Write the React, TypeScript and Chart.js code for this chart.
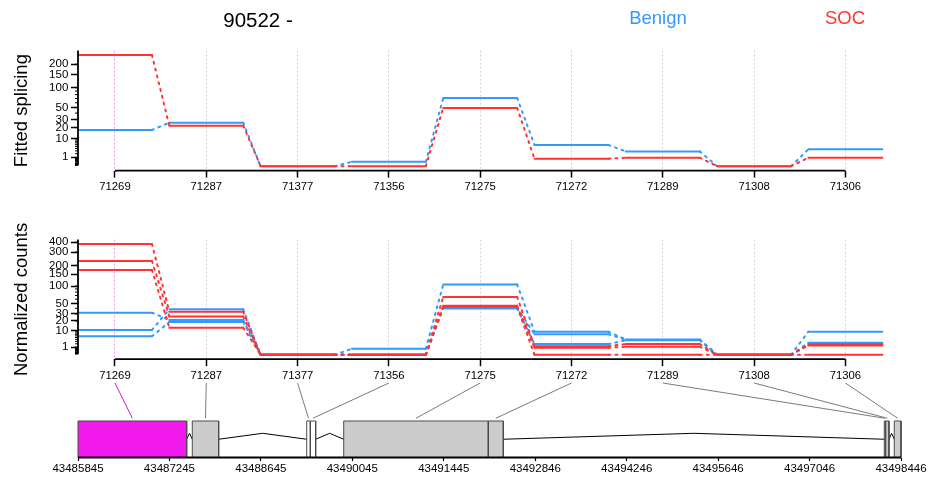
import { useEffect, useRef } from 'react';
import { Chart, registerables } from 'chart.js';

Chart.register(...registerables);

const FONT = '"Liberation Sans", Arial, Helvetica, sans-serif';
const RED = '#FF3333';
const BLUE = '#3399FF';
const HIGHLIGHT = '#F219ED';

const geneId = '90522';
const strand = '-';
const groupNames = ['Benign', 'SOC'];

// exon bins, in plotting order
const exonLabels = ['71269', '71287', '71377', '71356', '71275', '71272', '71289', '71308', '71306'];

// fitted splicing per exon bin
const fittedBenign = [17.5, 25.9, 0, 0.26, 71, 5.8, 2.8, 0, 3.65];
const fittedSOC = [256, 22.2, 0, 0, 49.3, 0.71, 0.92, 0, 0.92];

// normalized counts, one array per sample
const benign1 = [32.1, 21.3, 0, 0.61, 105.8, 9.0, 3.9, 0, 9.0];
const benign2 = [10.5, 38.1, 0, 0, 41.5, 7.1, 3.7, 0, 2.4];
const benign3 = [5.7, 18.8, 0, 0, 39.6, 1.9, 3.5, 0, 1.9];
const soc1 = [380, 33.8, 0, 0, 65.7, 1.22, 1.93, 0, 1.75];
const soc2 = [229, 26.1, 0, 0, 44.9, 0.83, 1.08, 0, 1.45];
const soc3 = [173, 12.6, 0, 0, 42.9, 0, 0, 0, 0];

// labelled y ticks
const fittedTicks = [1, 10, 20, 30, 50, 100, 150, 200];
const countTicks = [1, 10, 20, 30, 50, 100, 150, 200, 300, 400];
const minorDecades = [0.01, 0.1, 1, 10, 100];
const minorSteps = [1, 2, 3, 4, 5, 6, 7, 8, 9];

// gene model (genomic coordinates)
const geneStart = 43485845;
const geneEnd = 43498446;
const exonStart = [43485845, 43487595, 43489347, 43489402, 43489913, 43492127, 43498190, 43498210, 43498343];
const exonEnd = [43487509, 43487999, 43489402, 43489484, 43492127, 43492357, 43498210, 43498262, 43498446];
const exonTested = [true, true, false, false, true, true, true, true, true];
const highlightedExon = 0;
const genomeTicks = [43485845, 43487245, 43488645, 43490045, 43491445, 43492846, 43494246, 43495646, 43497046, 43498446];

// variance-stabilising transform used for the y axes
const vst = (v: number) => Math.asinh(Math.sqrt(0.01 * v));

const HALF = 0.405;
const X_MIN = -0.405;
const X_MAX = 8.609;

function stepLine(values: number[], color: string) {
  return {
    data: values.flatMap((v, k) => [
      { x: k - HALF, y: vst(v) },
      { x: k + HALF, y: vst(v) },
    ]),
    borderColor: color,
    borderWidth: 2,
    pointRadius: 0,
    fill: false,
    tension: 0,
    borderCapStyle: 'round',
    borderJoinStyle: 'round',
    segment: {
      borderDash: (ctx: any) => (ctx.p0DataIndex % 2 === 1 ? [2, 5] : undefined),
    },
  };
}

const minorValues = minorDecades.flatMap((d) => minorSteps.map((s) => s * d));

const rAxesPlugin = {
  id: 'rAxes',
  afterDraw(chart: any) {
    const { ctx, chartArea: a } = chart;
    const x = chart.scales.x;
    const y = chart.scales.y;
    ctx.save();
    ctx.strokeStyle = '#000';
    ctx.lineWidth = 1.8;
    ctx.beginPath();
    ctx.moveTo(x.getPixelForValue(0), a.bottom);
    ctx.lineTo(x.getPixelForValue(exonLabels.length - 1), a.bottom);
    ctx.moveTo(a.left, y.getPixelForValue(vst(minorValues[0])));
    ctx.lineTo(a.left, a.top);
    ctx.stroke();
    ctx.lineWidth = 1;
    ctx.beginPath();
    minorValues.forEach((v) => {
      const t = vst(v);
      if (t <= y.max) {
        const py = y.getPixelForValue(t);
        ctx.moveTo(a.left - 3, py);
        ctx.lineTo(a.left, py);
      }
    });
    ctx.stroke();
    ctx.restore();
  },
};

const headerPlugin = {
  id: 'header',
  afterDraw(chart: any) {
    const { ctx } = chart;
    ctx.save();
    ctx.textAlign = 'center';
    ctx.textBaseline = 'alphabetic';
    ctx.fillStyle = '#000';
    ctx.font = `20.5px ${FONT}`;
    ctx.fillText(`${geneId} ${strand}`, 258, 27.3);
    ctx.font = `18.5px ${FONT}`;
    ctx.fillStyle = BLUE;
    ctx.fillText(groupNames[0], 658, 23.7);
    ctx.fillStyle = RED;
    ctx.fillText(groupNames[1], 845, 23.7);
    ctx.restore();
  },
};

function panelConfig(opts: {
  datasets: any[];
  yMin: number;
  yMax: number;
  majors: number[];
  title: string;
  padTop: number;
  padBottom: number;
  xHeight: number;
  plugins: any[];
}): any {
  return {
    type: 'line',
    data: { datasets: opts.datasets },
    plugins: opts.plugins,
    options: {
      animation: false,
      responsive: false,
      events: [],
      layout: { padding: { top: opts.padTop, bottom: opts.padBottom, left: 0, right: 27 } },
      plugins: { legend: { display: false }, tooltip: { enabled: false }, title: { display: false } },
      scales: {
        x: {
          type: 'linear',
          min: X_MIN,
          max: X_MAX,
          bounds: 'data',
          afterBuildTicks: (s: any) => {
            s.ticks = exonLabels.map((_, i) => ({ value: i }));
          },
          afterFit: (s: any) => {
            s.height = opts.xHeight;
            s.paddingLeft = 0;
            s.paddingRight = 0;
          },
          ticks: {
            autoSkip: false,
            maxRotation: 0,
            padding: 2.7,
            color: '#000',
            font: { size: 11.3, family: FONT },
            callback: (_v: any, i: number) => exonLabels[i],
          },
          grid: {
            drawOnChartArea: true,
            drawTicks: true,
            tickLength: 7,
            tickColor: '#000',
            tickWidth: 1.5,
            lineWidth: 1,
            color: (ctx: any) => (ctx.index === highlightedExon ? 'rgba(242,25,237,0.45)' : '#D4D4D4'),
          },
          border: { display: false, dash: [2, 2] },
        },
        y: {
          type: 'linear',
          min: opts.yMin,
          max: opts.yMax,
          bounds: 'data',
          afterBuildTicks: (s: any) => {
            s.ticks = opts.majors.map((v) => ({ value: vst(v) }));
          },
          afterFit: (s: any) => {
            s.width = 78;
            s.paddingTop = 0;
            s.paddingBottom = 0;
          },
          ticks: {
            autoSkip: false,
            padding: 2.7,
            color: '#000',
            font: { size: 11.5, family: FONT },
            callback: (_v: any, i: number) => String(opts.majors[i]),
          },
          grid: {
            drawOnChartArea: false,
            drawTicks: true,
            tickLength: 7,
            tickColor: '#000',
            tickWidth: 1.5,
          },
          border: { display: false },
          title: {
            display: true,
            text: opts.title,
            color: '#000',
            font: { size: 18.5, family: FONT },
            padding: { top: 10.5, bottom: 0 },
          },
        },
      },
    },
  };
}

function geneConfig(mid: any): any {
  const datasets: any[] = [];
  exonStart.forEach((s, i) => {
    const e = exonEnd[i];
    datasets.push({
      data: [
        { x: s, y: 0 },
        { x: s, y: 1 },
        { x: e, y: 1 },
        { x: e, y: 0 },
      ],
      fill: 'origin',
      backgroundColor: i === highlightedExon ? HIGHLIGHT : exonTested[i] ? '#CCCCCC' : '#FFFFFF',
      borderColor: '#4A4A4A',
      borderWidth: 1,
      pointRadius: 0,
      tension: 0,
      clip: 4,
    });
  });
  for (let i = 0; i < exonStart.length - 1; i++) {
    const a = exonEnd[i];
    const b = exonStart[i + 1];
    if (b > a) {
      datasets.push({
        data: [
          { x: a, y: 0.5 },
          { x: (a + b) / 2, y: 0.663 },
          { x: b, y: 0.5 },
        ],
        fill: false,
        borderColor: '#000',
        borderWidth: 1,
        pointRadius: 0,
        tension: 0,
        clip: 4,
      });
    }
  }

  const linkPlugin = {
    id: 'exonLinks',
    afterDraw(chart: any) {
      const { ctx, chartArea: area } = chart;
      const gx = chart.scales.x;
      const gy = chart.scales.y;
      const mx = mid.scales.x;
      ctx.save();
      ctx.lineWidth = 1;
      exonLabels.forEach((_, k) => {
        ctx.strokeStyle = k === highlightedExon ? '#C41FC2' : '#7A7A7A';
        ctx.beginPath();
        ctx.moveTo(mx.getPixelForValue(k), area.top);
        ctx.lineTo(gx.getPixelForValue((exonStart[k] + exonEnd[k]) / 2), gy.getPixelForValue(1.075));
        ctx.stroke();
      });
      ctx.strokeStyle = '#000';
      ctx.lineWidth = 1.8;
      ctx.beginPath();
      ctx.moveTo(area.left, area.bottom);
      ctx.lineTo(area.right, area.bottom);
      ctx.stroke();
      ctx.restore();
    },
  };

  return {
    type: 'line',
    data: { datasets },
    plugins: [linkPlugin],
    options: {
      animation: false,
      responsive: false,
      events: [],
      layout: { padding: { top: 383, bottom: 0, left: 78, right: 27 } },
      plugins: { legend: { display: false }, tooltip: { enabled: false }, title: { display: false } },
      scales: {
        x: {
          type: 'linear',
          min: geneStart,
          max: geneEnd,
          bounds: 'data',
          afterBuildTicks: (s: any) => {
            s.ticks = genomeTicks.map((v) => ({ value: v }));
          },
          afterFit: (s: any) => {
            s.height = 20.5;
            s.paddingLeft = 0;
            s.paddingRight = 0;
          },
          ticks: {
            autoSkip: false,
            maxRotation: 0,
            padding: 1,
            color: '#000',
            font: { size: 11.5, family: FONT },
            callback: (_v: any, i: number) => String(genomeTicks[i]),
          },
          grid: { drawOnChartArea: false, drawTicks: true, tickLength: 3.5, tickColor: '#000', tickWidth: 1.2 },
          border: { display: false },
        },
        y: { display: false, min: 0, max: 2.041 },
      },
    },
  };
}

export default function App() {
  const topRef = useRef<HTMLCanvasElement>(null);
  const midRef = useRef<HTMLCanvasElement>(null);
  const geneRef = useRef<HTMLCanvasElement>(null);

  useEffect(() => {
    Chart.defaults.font.family = FONT;
    Chart.defaults.color = '#000';

    const top = new Chart(
      topRef.current as HTMLCanvasElement,
      panelConfig({
        datasets: [stepLine(fittedSOC, RED), stepLine(fittedBenign, BLUE)],
        yMin: -0.0494,
        yMax: 1.2989,
        majors: fittedTicks,
        title: 'Fitted splicing',
        padTop: 50.6,
        padBottom: 278,
        xHeight: 29.4,
        plugins: [rAxesPlugin, headerPlugin],
      })
    );

    const mid = new Chart(
      midRef.current as HTMLCanvasElement,
      panelConfig({
        datasets: [
          stepLine(soc1, RED),
          stepLine(soc2, RED),
          stepLine(soc3, RED),
          stepLine(benign1, BLUE),
          stepLine(benign2, BLUE),
          stepLine(benign3, BLUE),
        ],
        yMin: -0.0564,
        yMax: 1.4769,
        majors: countTicks,
        title: 'Normalized counts',
        padTop: 239.6,
        padBottom: 93.8,
        xHeight: 25,
        plugins: [rAxesPlugin],
      })
    );

    const gene = new Chart(geneRef.current as HTMLCanvasElement, geneConfig(mid));

    return () => {
      top.destroy();
      mid.destroy();
      gene.destroy();
    };
  }, []);

  const canvasStyle: any = { position: 'absolute', left: 0, top: 0 };
  return (
    <div style={{ position: 'fixed', left: 0, top: 0, width: 928, height: 478, background: '#fff' }}>
      <canvas ref={topRef} width={928} height={478} style={canvasStyle} />
      <canvas ref={midRef} width={928} height={478} style={canvasStyle} />
      <canvas ref={geneRef} width={928} height={478} style={canvasStyle} />
    </div>
  );
}
